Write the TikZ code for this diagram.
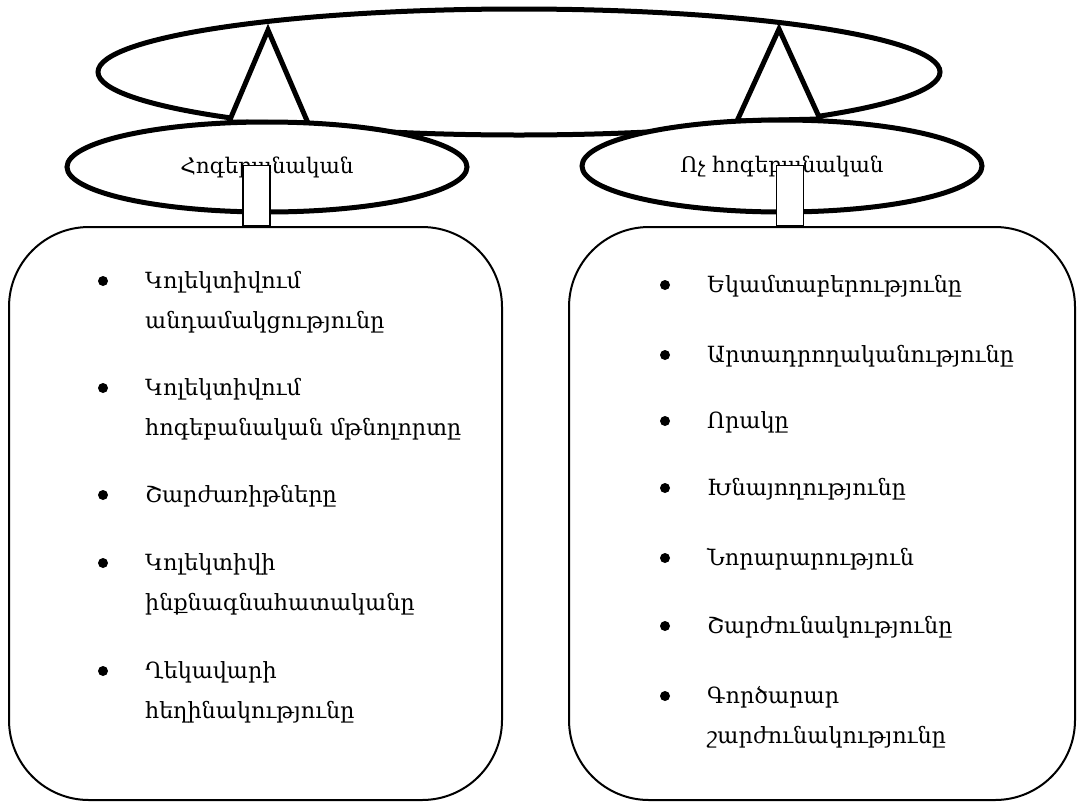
\documentclass[tikz,border=0pt]{standalone}
\usepackage{fontspec}
\setmainfont{DejaVu Serif}
\usetikzlibrary{shapes.geometric,positioning}

\tikzset{
  thickline/.style={line width=5pt},
  oval/.style={draw, ellipse, thickline, fill=white, inner sep=0pt, font=\fontsize{21.5}{25}\selectfont},
  stem/.style={draw, fill=white, line width=1.5pt, minimum width=27pt, minimum height=60pt, inner sep=0pt},
  panel/.style={draw, line width=2pt, rounded corners=80pt, inner sep=0pt},
  itemtext/.style={anchor=base west, inner sep=0pt, font=\fontsize{22.3}{25}\selectfont},
  dot/.style={circle, fill=black, inner sep=0pt, minimum size=10pt},
}

\begin{document}
\begin{tikzpicture}[x=1pt, y=-1pt]
\useasboundingbox (0,0) rectangle (1078,801);

% top oval
\node[oval, minimum width=842pt, minimum height=126pt] (top) at (519,72) {};
\coordinate (lapex) at (268,30);
\coordinate (rapex) at (779,29);

% the two kinds
\path (267,167) coordinate (psyc) (782,166) coordinate (nonpsyc);
\draw[thickline, fill=white, line join=miter] (lapex) -- ([xshift=-38pt, yshift=45pt]psyc) -- ([xshift=41pt, yshift=44pt]psyc) -- cycle;
\draw[thickline, fill=white, line join=miter] (rapex) -- ([xshift=-45pt, yshift=45pt]nonpsyc) -- ([xshift=38pt, yshift=47pt]nonpsyc) -- cycle;
\node[oval, minimum width=400pt, minimum height=90pt] (psy) at (psyc) {Հոգեբանական};
\node[oval, minimum width=400pt, minimum height=92pt] (nonpsy) at (nonpsyc) {Ոչ հոգեբանական};

% panels
\node[panel, minimum width=493pt, minimum height=573pt] (lpanel) at (255.5,513.5) {};
\node[panel, minimum width=506pt, minimum height=573pt] (rpanel) at (822,513.5) {};
\node[stem, anchor=south] (lstem) at ([xshift=1pt]lpanel.north) {};
\node[stem, anchor=south] (rstem) at ([xshift=-32pt]rpanel.north) {};

% left list
\foreach \yb/\txt/\bul [count=\i] in {288/Կոլեկտիվում/1, 328/անդամակցությունը/0,
    395/Կոլեկտիվում/1, 435/հոգեբանական մթնոլորտը/0, 502/Շարժառիթները/1,
    570/Կոլեկտիվի/1, 610/ինքնագնահատականը/0, 678/Ղեկավարի/1, 718/հեղինակությունը/0}{
  \node[itemtext] (l\i) at (145,\yb) {\txt};
  \ifnum\bul=1 \node[dot] (lb\i) at (103,\yb-7) {}; \fi
}

% right list
\foreach \yb/\txt/\bul [count=\i] in {292/Եկամտաբերությունը/1, 362/Արտադրողականությունը/1,
    428/Որակը/1, 495/Խնայողությունը/1, 565/Նորարարություն/1,
    633/Շարժունակությունը/1, 703/Գործարար/1, 743/շարժունակությունը/0}{
  \node[itemtext] (r\i) at (707,\yb) {\txt};
  \ifnum\bul=1 \node[dot] (rb\i) at (665,\yb-7) {}; \fi
}
\end{tikzpicture}
\end{document}
